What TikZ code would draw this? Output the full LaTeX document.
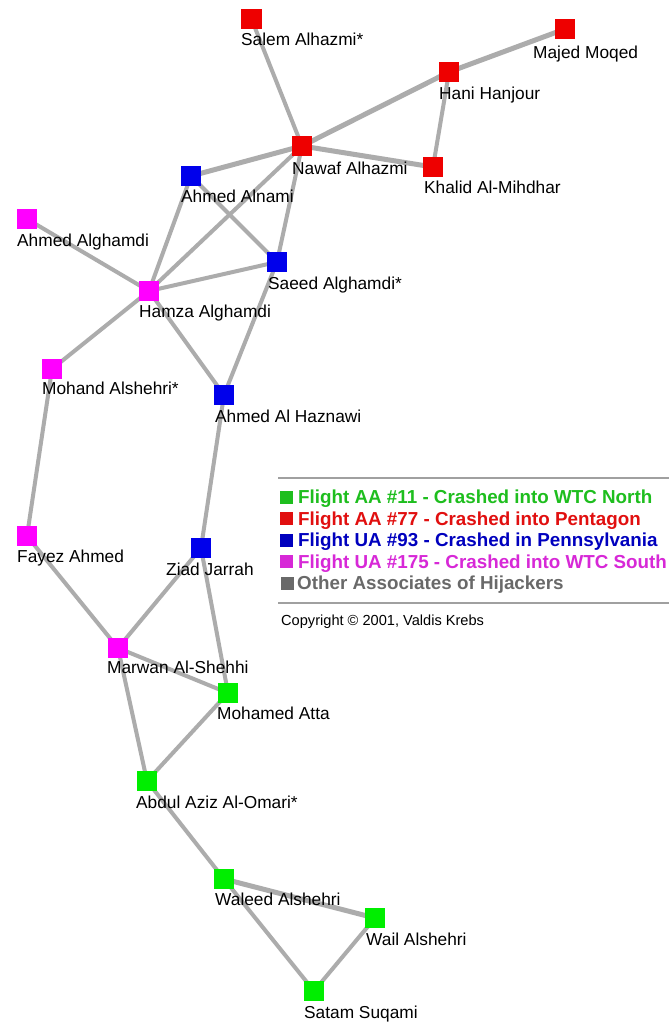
\documentclass[tikz,border=0pt]{standalone}
\usepackage{fontspec}
\setmainfont{Liberation Sans}
\definecolor{nred}{RGB}{238,0,0}
\definecolor{nblue}{RGB}{0,0,235}
\definecolor{nmag}{RGB}{255,0,255}
\definecolor{ngreen}{RGB}{0,238,0}
\definecolor{edgegray}{RGB}{172,172,172}
\definecolor{lgreen}{RGB}{30,190,30}
\definecolor{lred}{RGB}{225,15,15}
\definecolor{lblue}{RGB}{0,0,190}
\definecolor{lmag}{RGB}{215,40,215}
\definecolor{lgray}{RGB}{105,105,105}
\definecolor{rulegray}{RGB}{160,160,160}
\tikzset{
  person/.style={rectangle, minimum size=20pt, inner sep=0pt, fill=#1},
  tie/.style={draw=edgegray, line width=4pt},
  strongtie/.style={draw=edgegray, line width=5pt},
  namelab/.style={anchor=base west, inner sep=0pt, font=\fontsize{17.3}{18}\selectfont},
  legsq/.style={rectangle, minimum size=13pt, inner sep=0pt, fill=#1},
  legtext/.style={anchor=base west, inner sep=0pt, font=\fontsize{18.8}{20}\selectfont\bfseries, text=#1},
  legrule/.style={draw=rulegray, line width=2pt}
}
\begin{document}
\begin{tikzpicture}[x=1pt, y=-1pt]
\useasboundingbox (0,0) rectangle (669,1023);
\fill[white] (0,0) rectangle (669,1023);
% nodes
\node[person=nred]  (salem)   at (251.5,19) {};
\node[person=nred]  (majed)   at (565,29)  {};
\node[person=nred]  (hani)    at (449,72)  {};
\node[person=nred]  (nawaf)   at (302,146) {};
\node[person=nred]  (khalid)  at (433,167) {};
\node[person=nblue] (alnami)  at (191,176) {};
\node[person=nmag]  (aalgh)   at (27,219)  {};
\node[person=nblue] (saeed)   at (277,262) {};
\node[person=nmag]  (hamza)   at (149,291) {};
\node[person=nmag]  (mohand)  at (52,369)  {};
\node[person=nblue] (haznawi) at (224,395) {};
\node[person=nmag]  (fayez)   at (27,536)  {};
\node[person=nblue] (ziad)    at (201,548) {};
\node[person=nmag]  (marwan)  at (118,648) {};
\node[person=ngreen] (atta)   at (228,693) {};
\node[person=ngreen] (abdul)  at (147,781) {};
\node[person=ngreen] (waleed) at (224,879) {};
\node[person=ngreen] (wail)   at (375,918) {};
\node[person=ngreen] (satam)  at (314,991) {};
% edges
\draw[tie] (salem.center) -- (nawaf.center);
\draw[strongtie] (majed.center) -- (hani.center);
\draw[strongtie] (hani.center) -- (nawaf.center);
\draw[tie] (hani.center) -- (khalid.center);
\draw[strongtie] (nawaf.center) -- (khalid.center);
\draw[strongtie] (nawaf.center) -- (alnami.center);
\draw[tie] (nawaf.center) -- (hamza.center);
\draw[tie] (nawaf.center) -- (saeed.center);
\draw[tie] (alnami.center) -- (hamza.center);
\draw[tie] (alnami.center) -- (saeed.center);
\draw[tie] (aalgh.center) -- (hamza.center);
\draw[tie] (hamza.center) -- (saeed.center);
\draw[tie] (hamza.center) -- (mohand.center);
\draw[tie] (hamza.center) -- (haznawi.center);
\draw[tie] (saeed.center) -- (haznawi.center);
\draw[tie] (mohand.center) -- (fayez.center);
\draw[tie] (haznawi.center) -- (ziad.center);
\draw[tie] (fayez.center) -- (marwan.center);
\draw[tie] (ziad.center) -- (marwan.center);
\draw[tie] (ziad.center) -- (atta.center);
\draw[tie] (marwan.center) -- (atta.center);
\draw[tie] (marwan.center) -- (abdul.center);
\draw[tie] (atta.center) -- (abdul.center);
\draw[tie] (abdul.center) -- (waleed.center);
\draw[strongtie] (waleed.center) -- (wail.center);
\draw[tie] (waleed.center) -- (satam.center);
\draw[tie] (wail.center) -- (satam.center);
% redraw squares on top of the edges
\foreach \n/\c in {salem/nred,majed/nred,hani/nred,nawaf/nred,khalid/nred,alnami/nblue,aalgh/nmag,saeed/nblue,hamza/nmag,mohand/nmag,haznawi/nblue,fayez/nmag,ziad/nblue,marwan/nmag,atta/ngreen,abdul/ngreen,waleed/ngreen,wail/ngreen,satam/ngreen}
  \fill[\c] (\n.south west) rectangle (\n.north east);
% labels
\node[namelab] (l-salem)   at (241,45.5) {Salem Alhazmi*};
\node[namelab] (l-majed)   at (533,58)   {Majed Moqed};
\node[namelab] (l-hani)    at (439,99)   {Hani Hanjour};
\node[namelab] (l-nawaf)   at (292,174)  {Nawaf Alhazmi};
\node[namelab] (l-khalid)  at (424,193)  {Khalid Al-Mihdhar};
\node[namelab] (l-alnami)  at (181,202)  {Ahmed Alnami};
\node[namelab] (l-aalgh)   at (17,246)   {Ahmed Alghamdi};
\node[namelab] (l-saeed)   at (268,289)  {Saeed Alghamdi*};
\node[namelab] (l-hamza)   at (139,317)  {Hamza Alghamdi};
\node[namelab] (l-mohand)  at (42,394)   {Mohand Alshehri*};
\node[namelab] (l-haznawi) at (215,422)  {Ahmed Al Haznawi};
\node[namelab] (l-fayez)   at (17,562)   {Fayez Ahmed};
\node[namelab] (l-ziad)    at (166,575)  {Ziad Jarrah};
\node[namelab] (l-marwan)  at (107,673)  {Marwan Al-Shehhi};
\node[namelab] (l-atta)    at (217,719)  {Mohamed Atta};
\node[namelab] (l-abdul)   at (136,808)  {Abdul Aziz Al-Omari*};
\node[namelab] (l-waleed)  at (215,905)  {Waleed Alshehri};
\node[namelab] (l-wail)    at (366,945)  {Wail Alshehri};
\node[namelab] (l-satam)   at (304,1018) {Satam Suqami};
% legend
\coordinate (rule1a) at (278,478);
\coordinate (rule1b) at (669,478);
\coordinate (rule2a) at (278,603);
\coordinate (rule2b) at (669,603);
\draw[legrule] (rule1a) -- (rule1b);
\draw[legrule] (rule2a) -- (rule2b);
\node[legsq=lgreen] (sq1) at (286.5,497) {};
\node[legsq=lred]   (sq2) at (286.5,518.5) {};
\node[legsq=lblue]  (sq3) at (286.5,540) {};
\node[legsq=lmag]   (sq4) at (286.5,561.5) {};
\node[legsq=lgray]  (sq5) at (287.5,583) {};
\node[legtext=lgreen] (t1) at (298,503.5) {Flight AA \#11 - Crashed into WTC North};
\node[legtext=lred]   (t2) at (298,525) {Flight AA \#77 - Crashed into Pentagon};
\node[legtext=lblue]  (t3) at (298,546.5) {Flight UA \#93 - Crashed in Pennsylvania};
\node[legtext=lmag]   (t4) at (298,568) {Flight UA \#175 - Crashed into WTC South};
\node[legtext=lgray]  (t5) at (297,589.5) {Other Associates of Hijackers};
\node[anchor=base west, inner sep=0pt, font=\fontsize{14.6}{16}\selectfont] (copy) at (281,625.5) {Copyright © 2001, Valdis Krebs};
\end{tikzpicture}
\end{document}
